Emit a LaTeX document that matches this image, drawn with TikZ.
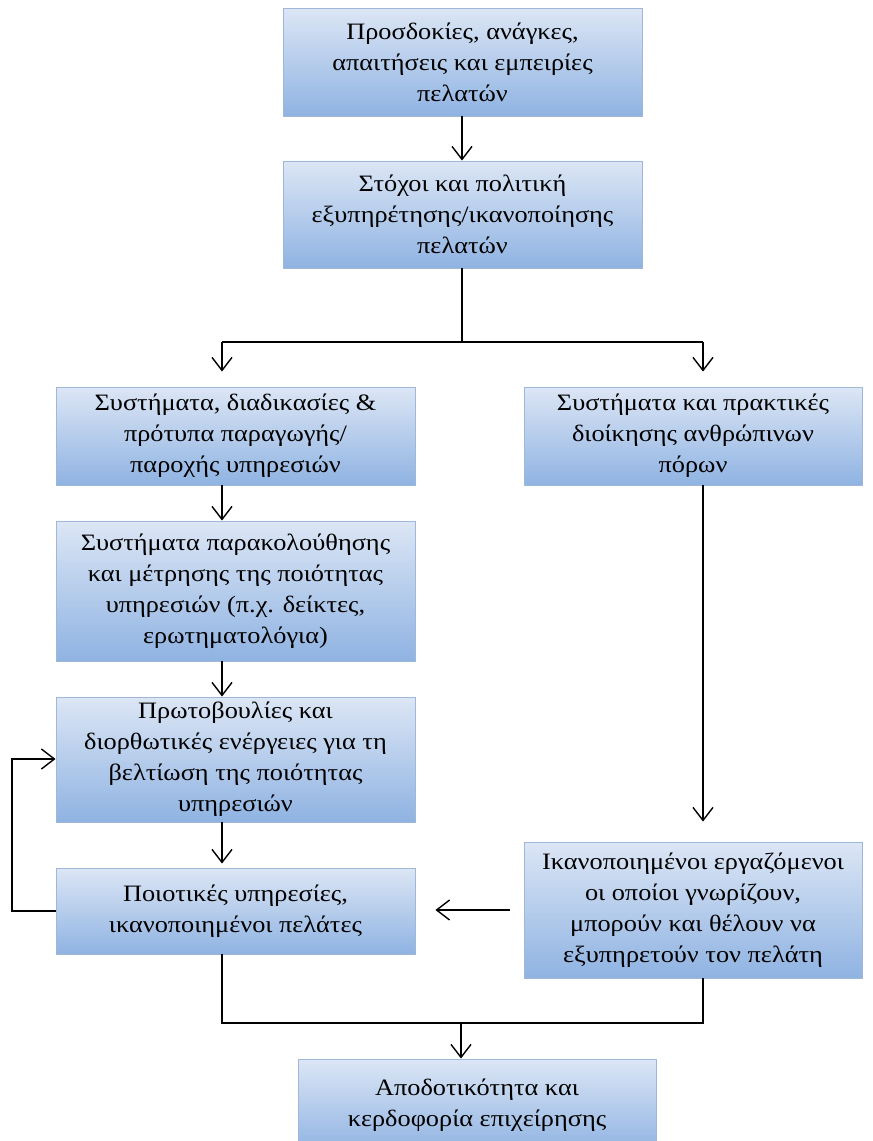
\documentclass[tikz,border=0pt]{standalone}
\usepackage{fontspec}
\setmainfont{Liberation Serif}[FakeStretch=1.12]
\usetikzlibrary{arrows.meta,calc}
\definecolor{boxtop}{HTML}{DCE6F5}
\definecolor{boxbot}{HTML}{8FB3E2}
\definecolor{boxborder}{HTML}{9FB8D8}
\tikzset{
  box/.style={draw=boxborder, line width=0.9pt, top color=boxtop, bottom color=boxbot,
    align=center, font=\fontsize{23.5}{31}\selectfont, inner sep=0pt, anchor=center},
  conn/.style={line width=1.4pt, black},
  arr/.style={conn, -{Straight Barb[length=13pt,width=20pt,line width=1.4pt]}}
}
\begin{document}
\begin{tikzpicture}[x=1pt,y=-1pt]
\useasboundingbox (0,0) rectangle (873,1141);
\node[box, minimum width=359pt, minimum height=108pt] (b1) at (462.5,62)
  {Προσδοκίες, ανάγκες,\\απαιτήσεις και εμπειρίες\\πελατών};
\node[box, minimum width=359pt, minimum height=107pt] (b2) at (462.5,214.5)
  {Στόχοι και πολιτική\\εξυπηρέτησης/ικανοποίησης\\πελατών};
\node[box, minimum width=359pt, minimum height=98pt] (b3) at (235.5,436)
  {Συστήματα, διαδικασίες \&\\πρότυπα παραγωγής/\\παροχής υπηρεσιών};
\node[box, minimum width=338pt, minimum height=98pt] (b4) at (693,436)
  {Συστήματα και πρακτικές\\διοίκησης ανθρώπινων\\πόρων};
\node[box, minimum width=359pt, minimum height=140pt] (b5) at (235.5,591)
  {Συστήματα παρακολούθησης\\και μέτρησης της ποιότητας\\υπηρεσιών (π.χ. δείκτες,\\ερωτηματολόγια)};
\node[box, minimum width=359pt, minimum height=125pt] (b6) at (235.5,759.5)
  {Πρωτοβουλίες και\\διορθωτικές ενέργειες για τη\\βελτίωση της ποιότητας\\υπηρεσιών};
\node[box, minimum width=359pt, minimum height=86pt] (b7) at (235.5,911)
  {Ποιοτικές υπηρεσίες,\\ικανοποιημένοι πελάτες};
\node[box, minimum width=338pt, minimum height=136pt] (b8) at (693,910)
  {Ικανοποιημένοι εργαζόμενοι\\οι οποίοι γνωρίζουν,\\μπορούν και θέλουν να\\εξυπηρετούν τον πελάτη};
\node[box, minimum width=358pt, minimum height=93pt] (b9) at (477,1105.5)
  {Αποδοτικότητα και\\κερδοφορία επιχείρησης};
% coordinates
\coordinate (j1) at (462,342);
\coordinate (l1) at (222,342);
\coordinate (r1) at (703,342);
\coordinate (fbL) at (12,911);
\coordinate (fbT) at (12,759);
\coordinate (bl) at (222,1023);
\coordinate (br) at (703,1023);
\coordinate (bm) at (461,1023);
% connectors
\draw[arr] (b1.south -| j1) -- (b2.north -| j1);
\draw[conn] (b2.south -| j1) -- (j1);
\draw[conn] (l1) -- (r1);
\draw[arr] (l1) -- ([yshift=15pt]b3.north -| l1);
\draw[arr] (r1) -- ([yshift=15pt]b4.north -| r1);
\draw[arr] (b3.south -| l1) -- (b5.north -| l1);
\draw[arr] (b5.south -| l1) -- (b6.north -| l1);
\draw[arr] (b6.south -| l1) -- ([yshift=4pt]b7.north -| l1);
\draw[conn, line cap=rect] (b7.west |- fbL) -- (fbL) -- (fbT);
\draw[arr] (fbT) -- (b6.west |- fbT);
\draw[arr] (b4.south -| r1) -- ([yshift=20pt]b8.north -| r1);
\draw[arr] ([xshift=-14pt]b8.west) -- ([xshift=20pt]b7.east |- b8.west);
\draw[conn] (b7.south -| bl) -- (bl) -- (br) -- (b8.south -| br);
\draw[arr] (bm) -- (b9.north -| bm);
\end{tikzpicture}
\end{document}
